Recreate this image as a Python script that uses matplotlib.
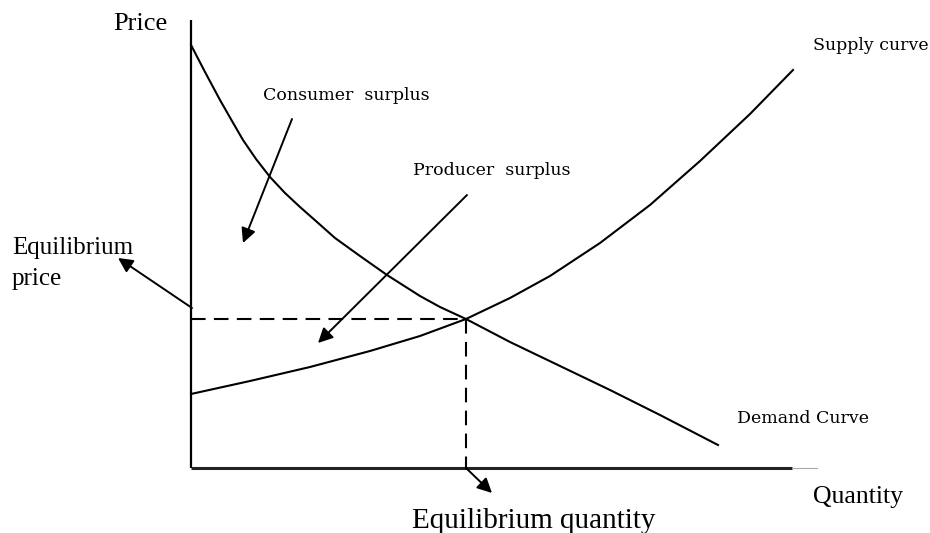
import matplotlib.pyplot as plt

# demand curve (quantity, price)
demand_q = [0, 1.4, 2.9, 4.1, 5.2, 6.5, 7.9, 9.4, 10.9, 12.6, 14.4, 16.9, 19.6, 22.9,
            24.9, 27.5, 31.9, 36.9, 41.9, 46.9, 52.7]
demand_p = [42.3, 39.6, 36.8, 34.7, 32.8, 30.9, 29.1, 27.5, 26.1, 24.6, 23.0, 21.2, 19.3, 17.2,
            16.1, 14.9, 12.6, 10.2, 7.8, 5.3, 2.3]

# supply curve (quantity, price)
supply_q = [0, 5.9, 11.9, 17.9, 22.9, 27.5, 31.9, 35.9, 40.9, 45.9, 50.9, 55.9, 60.2]
supply_p = [7.4, 8.7, 10.1, 11.7, 13.2, 14.9, 17.0, 19.2, 22.5, 26.3, 30.7, 35.4, 39.8]

eq_q = 27.5
eq_p = 14.9

fig = plt.figure(figsize=(9.3, 5.33), dpi=100)
ax = fig.add_axes([0, 0, 1, 1])
ax.set_xlim(-19.1, 73.9)
ax.set_ylim(-6.5, 46.8)
ax.axis('off')

serif = 'Liberation Serif'
label_font = 'DejaVu Serif'

# axes
ax.plot([0, 0], [0, 44.8], color='black', lw=1.6, solid_capstyle='butt')
ax.plot([0, 60.1], [0, 0], color='#222222', lw=2.2, solid_capstyle='butt')
ax.plot([60.1, 62.6], [0, 0], color='#aaaaaa', lw=0.8)

# curves
ax.plot(demand_q, demand_p, color='black', lw=1.5)
ax.plot(supply_q, supply_p, color='black', lw=1.5)

# dashed equilibrium lines
ax.plot([0, eq_q], [eq_p, eq_p], color='black', lw=1.5, dashes=(7, 4))
ax.plot([eq_q, eq_q], [eq_p, 0], color='black', lw=1.5, dashes=(7, 4))

arrow = dict(arrowstyle='-|>', color='black', lw=1.4, mutation_scale=22,
             shrinkA=0, shrinkB=0)
ax.annotate('', xy=(5.2, 22.5), xytext=(10.1, 34.9), arrowprops=arrow)
ax.annotate('', xy=(12.7, 12.5), xytext=(27.6, 27.3), arrowprops=arrow)
ax.annotate('', xy=(-7.3, 21.0), xytext=(0.1, 16.0), arrowprops=arrow)
ax.annotate('', xy=(30.1, -2.5), xytext=(eq_q, 0), arrowprops=arrow)

# labels
ax.text(-7.8, 43.8, 'Price', family=serif, fontsize=19, va='baseline', ha='left')
ax.text(62.2, -3.5, 'Quantity', family=serif, fontsize=18.5, va='baseline', ha='left')
ax.text(22.1, -6.0, 'Equilibrium quantity', family=serif, fontsize=21, va='baseline', ha='left')
ax.text(-17.9, 21.4, 'Equilibrium', family=serif, fontsize=18, va='baseline', ha='left')
ax.text(-17.9, 18.3, 'price', family=serif, fontsize=18, va='baseline', ha='left')

ax.text(7.2, 36.8, 'Consumer  surplus', family=label_font, fontsize=12.5, va='baseline', ha='left')
ax.text(22.2, 29.3, 'Producer  surplus', family=label_font, fontsize=12.5, va='baseline', ha='left')
ax.text(62.2, 41.8, 'Supply curve', family=label_font, fontsize=12.5, va='baseline', ha='left')
ax.text(54.6, 4.5, 'Demand Curve', family=label_font, fontsize=12.5, va='baseline', ha='left')

fig.savefig('out.png', dpi=100)
